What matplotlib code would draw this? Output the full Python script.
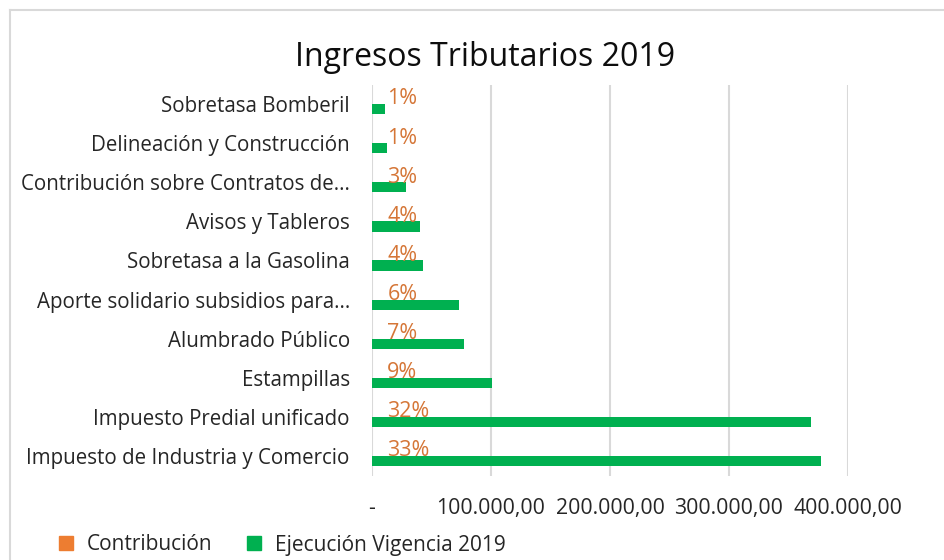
import numpy as np
import matplotlib
matplotlib.use('Agg')
import matplotlib.pyplot as plt
from matplotlib.lines import Line2D
from matplotlib.ticker import FuncFormatter

plt.rcParams['font.family'] = ['Open Sans', 'DejaVu Sans']

categories = [
    'Impuesto de Industria y Comercio',
    'Impuesto Predial unificado',
    'Estampillas',
    'Alumbrado Público',
    'Aporte solidario subsidios para...',
    'Sobretasa a la Gasolina',
    'Avisos y Tableros',
    'Contribución sobre Contratos de...',
    'Delineación y Construcción',
    'Sobretasa Bomberil',
]
ejecucion = [377500, 368600, 101000, 77300, 73000, 42500, 40600, 28500, 12400, 11000]
contribucion = [0.33, 0.32, 0.09, 0.07, 0.06, 0.04, 0.04, 0.03, 0.01, 0.01]
xticks = [0, 100000, 200000, 300000, 400000]

ORANGE = '#ED7D31'
GREEN = '#00B050'
TEXT = '#262626'

fig = plt.figure(figsize=(9.45, 5.6), dpi=100)
ax = fig.add_axes([372 / 945, 1 - 475.5 / 560, (848 - 372) / 945, (475.5 - 84.5) / 560])

y = np.arange(len(categories))
h = 0.26
ax.barh(y + h / 2, contribucion, height=h, color=ORANGE)
ax.barh(y - h / 2, ejecucion, height=h, color=GREEN)

# etiquetas de porcentaje (serie Contribución)
for yi, c in zip(y, contribucion):
    ax.annotate(f'{c * 100:.0f}%', (c, yi + h / 2), xytext=(11, 0), textcoords='offset points',
                ha='left', va='center', fontsize=15.5, color='#D57637')

ax.set_xlim(0, 400000)
ax.set_ylim(-0.5, len(categories) - 0.5)
ax.set_xticks(xticks)
ax.xaxis.set_major_formatter(FuncFormatter(
    lambda v, p: '-' if v == 0 else f'{v:,.2f}'.replace(',', 'X').replace('.', ',').replace('X', '.')))
ax.set_yticks(y)
ax.set_yticklabels(categories)
ax.tick_params(axis='both', length=0, labelcolor=TEXT)
ax.tick_params(axis='y', pad=16, labelsize=14.8)
ax.tick_params(axis='x', pad=16, labelsize=15.3)
ax.grid(axis='x', color='#D9D9D9', linewidth=1.5)
ax.set_axisbelow(True)
for s in ax.spines.values():
    s.set_visible(False)

fig.text(485 / 945, 1 - 57 / 560, 'Ingresos Tributarios 2019', ha='center', va='center',
         fontsize=23, color='#0D0D0D')

handles = [Line2D([], [], marker='s', linestyle='none', color=ORANGE, markersize=9.5),
           Line2D([], [], marker='s', linestyle='none', color=GREEN, markersize=9.5)]
fig.legend(handles, ['Contribución', 'Ejecución Vigencia 2019'], loc='center left',
           bbox_to_anchor=(26 / 945, 1 - 545 / 560), ncol=2, frameon=False, fontsize=15,
           handletextpad=0.0, columnspacing=1.0, labelcolor=TEXT)

fig.add_artist(Line2D([10 / 945, 10 / 945], [0, 1 - 10 / 560], transform=fig.transFigure,
                      color='#D9D9D9', linewidth=1.5))
fig.add_artist(Line2D([10 / 945, 1], [1 - 10 / 560, 1 - 10 / 560], transform=fig.transFigure,
                      color='#D9D9D9', linewidth=1.5))

fig.savefig('out.png', dpi=100)
